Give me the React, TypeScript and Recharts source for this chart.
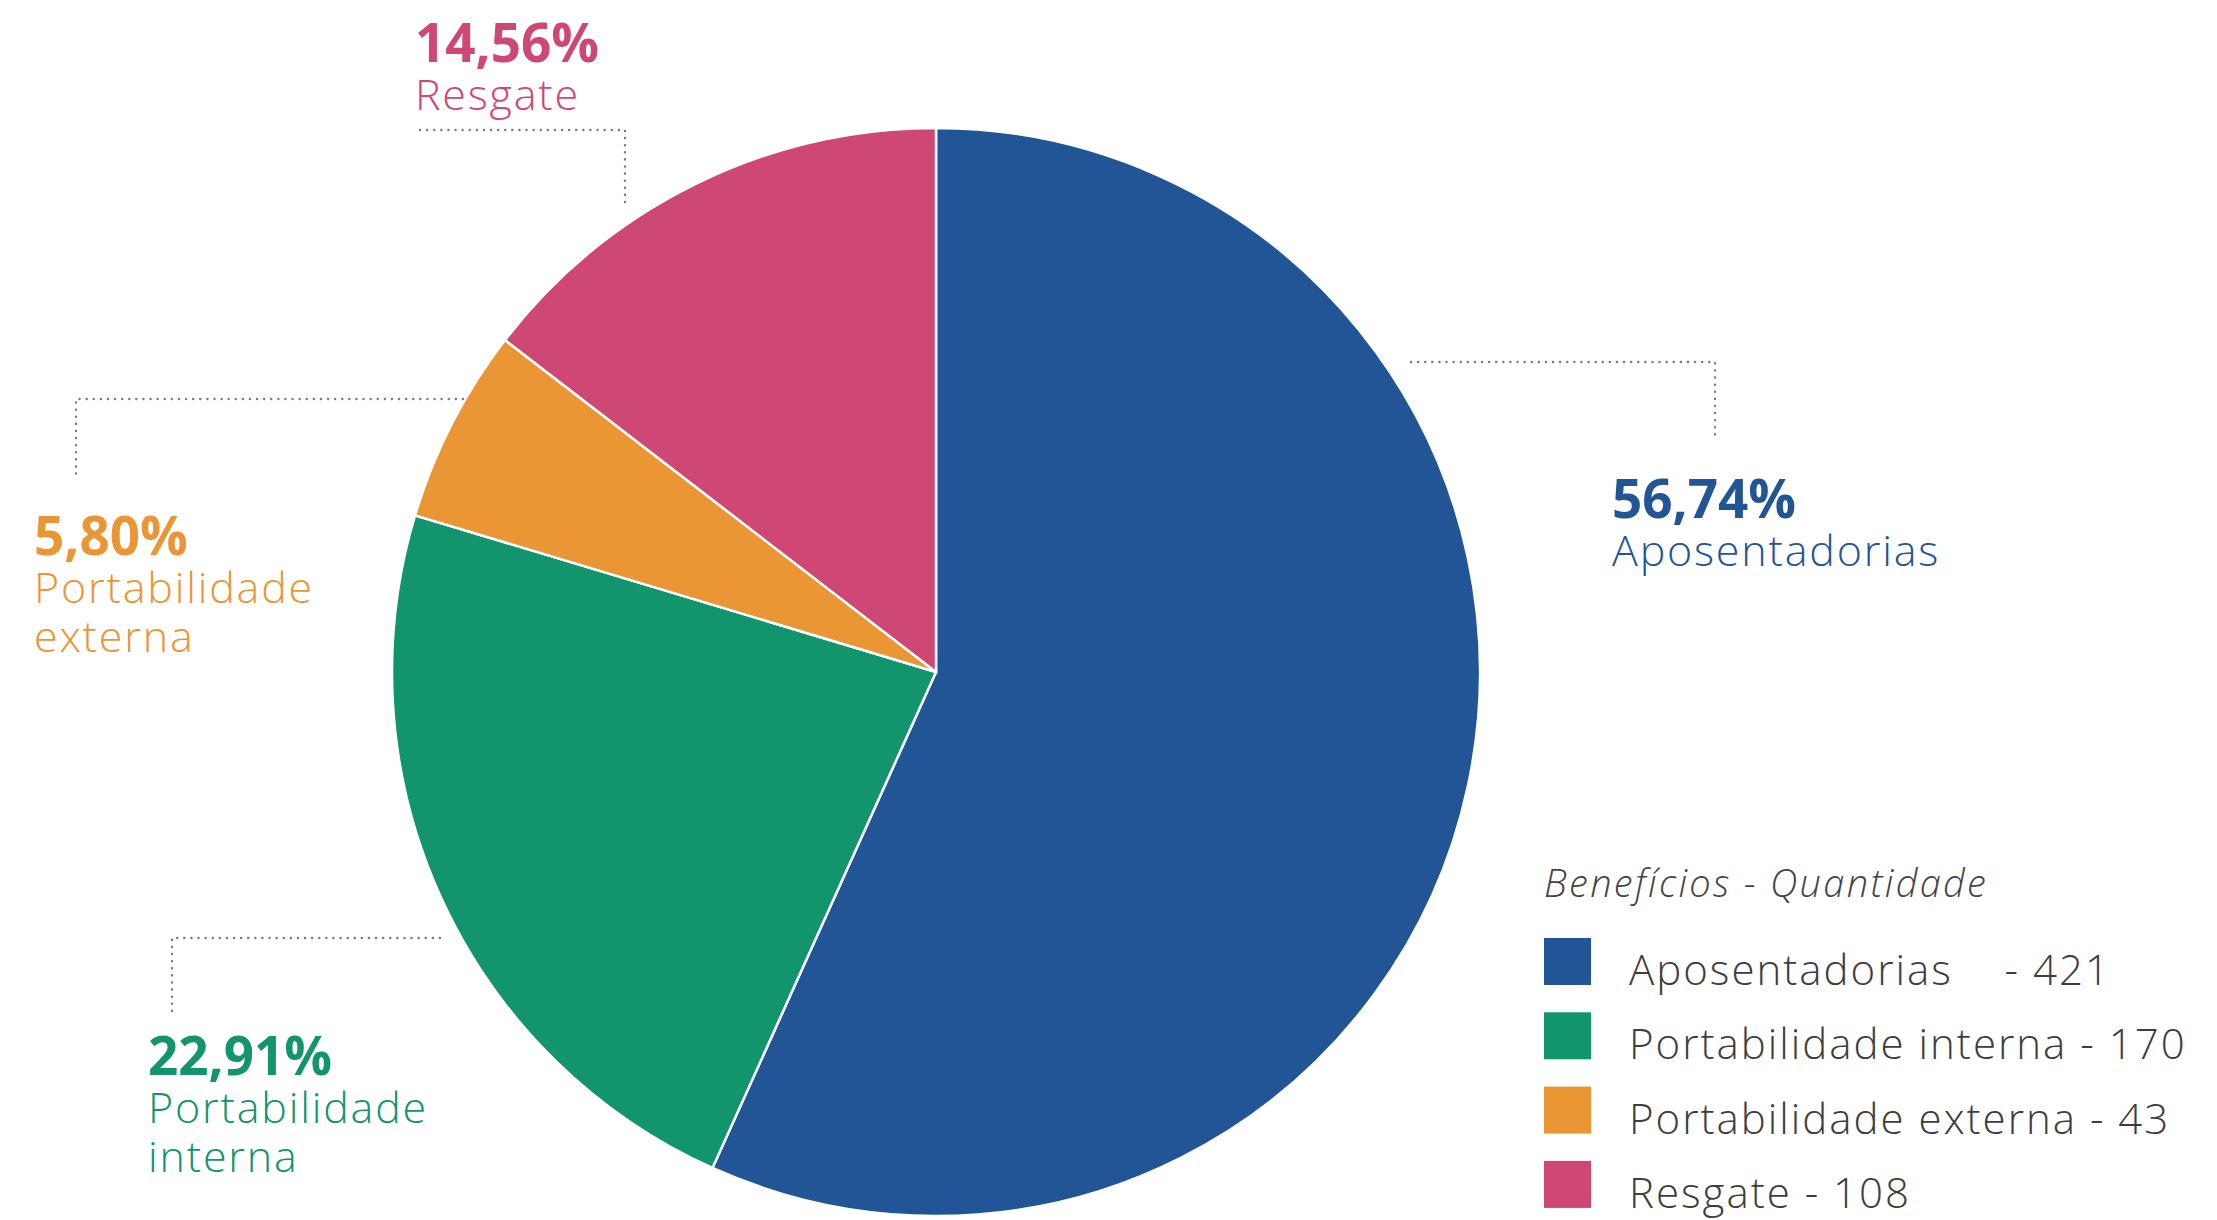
import React from 'react';
import { PieChart, Pie, Cell, Legend } from 'recharts';

const categories = ['Aposentadorias', 'Portabilidade interna', 'Portabilidade externa', 'Resgate'];
const quantities = [421, 170, 43, 108];
const colors = ['#225596', '#12946C', '#EA9635', '#CF4774'];
const annotationLines = [['Aposentadorias'], ['Portabilidade', 'interna'], ['Portabilidade', 'externa'], ['Resgate']];
const legendLabels = ['Aposentadorias    - 421', 'Portabilidade interna - 170', 'Portabilidade externa - 43', 'Resgate - 108'];
const legendTitle = 'Benefícios - Quantidade';

const total = quantities.reduce((a, b) => a + b, 0);
const data = categories.map((name, i) => ({ name, value: quantities[i] }));

// annotation layout (positions only)
const annotationLayout = [
  { x: 1612, y: 518, path: [[1411, 362], [1715, 362], [1715, 437]] },
  { x: 148, y: 1075, path: [[440, 938], [172, 938], [172, 1013]] },
  { x: 34, y: 555, path: [[463, 399], [76, 399], [76, 475]] },
  { x: 415, y: 62, path: [[420, 130], [625, 130], [625, 205]] },
];

const FONT = '"Open Sans", Roboto, sans-serif';

const fmtPct = (v: number) => ((v / total) * 100).toFixed(2).replace('.', ',') + '%';

const renderLabel = (props: any) => {
  const i = props.index;
  const lay = annotationLayout[i];
  if (!lay) return null;
  const color = colors[i];
  const d = lay.path.map((p, k) => (k === 0 ? 'M' : 'L') + p[0] + ',' + p[1]).join(' ');
  return (
    <g key={'ann' + i}>
      <path d={d} fill="none" stroke="#7a7a7a" strokeWidth={2.4} strokeDasharray="0.1 7" strokeLinecap="round" />
      <text x={lay.x} y={lay.y} fill={color} fontFamily={FONT} fontWeight={700} fontSize={53}>
        {fmtPct(quantities[i])}
      </text>
      {annotationLines[i].map((ln, k) => (
        <text key={k} x={lay.x} y={lay.y + 48 + k * 49} fill={color} fontFamily={FONT} fontWeight={300} fontSize={43} letterSpacing={1.8}>
          {ln}
        </text>
      ))}
    </g>
  );
};

const renderLegend = (props: any) => {
  const payload = props.payload || [];
  return (
    <svg width={673} height={370} style={{ display: 'block', overflow: 'visible' }}>
      <text x={0} y={47} fill="#444" fontFamily={FONT} fontStyle="italic" fontWeight={300} fontSize={38} letterSpacing={2.3}>
        {legendTitle}
      </text>
      {payload.map((entry: any, i: number) => {
        const base = 135 + i * 74.3;
        return (
          <g key={i}>
            <rect x={0} y={base - 47} width={47} height={47} fill={colors[i]} />
            <text x={85} y={base} fill="#3d3d3d" fontFamily={FONT} fontWeight={300} fontSize={42} letterSpacing={2} style={{ whiteSpace: 'pre' }}>
              {legendLabels[i]}
            </text>
          </g>
        );
      })}
    </svg>
  );
};

export default function App() {
  return (
    <div style={{ position: 'absolute', left: 0, top: 0, width: 2217, height: 1220, background: '#fff', overflow: 'hidden' }}>
      <PieChart width={2217} height={1220} margin={{ top: 0, right: 0, bottom: 0, left: 0 }}>
        <Pie
          data={data}
          dataKey="value"
          nameKey="name"
          cx={936}
          cy={672}
          outerRadius={544}
          startAngle={90}
          endAngle={-270}
          stroke="#ffffff"
          strokeWidth={2.5}
          label={renderLabel}
          labelLine={false}
          isAnimationActive={false}
        >
          {data.map((d, i) => (
            <Cell key={d.name} fill={colors[i]} />
          ))}
        </Pie>
        <Legend
          content={renderLegend}
          wrapperStyle={{ position: 'absolute', left: 1544, top: 850, width: 673, bottom: 'auto', right: 'auto' }}
        />
      </PieChart>
    </div>
  );
}
